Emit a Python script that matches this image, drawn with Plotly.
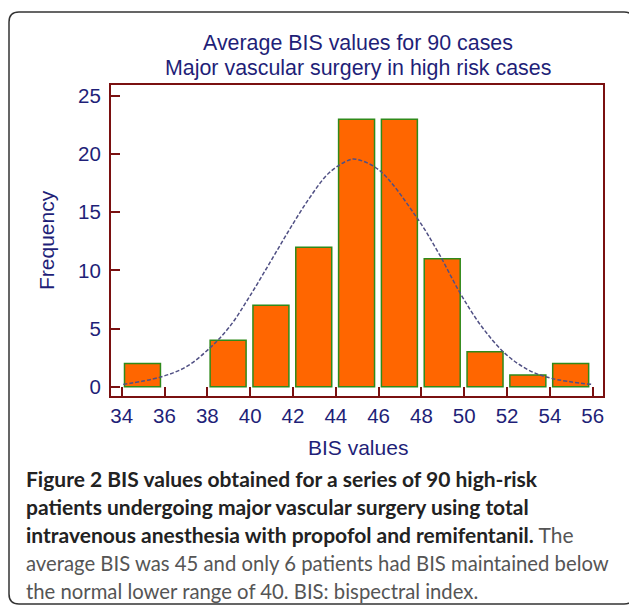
import plotly.graph_objects as go

# Histogram bins (left edges) and frequencies
bin_left = [34, 36, 38, 40, 42, 44, 46, 48, 50, 52, 54]
freq = [2, 0, 4, 7, 12, 23, 23, 11, 3, 1, 2]

# Fitted normal curve
curve_x = [34.07, 35.78, 37.02, 38.1, 39.04, 39.97, 40.9, 41.83, 42.76, 43.69, 44.62, 44.93,
           46.01, 47.8, 48.8, 49.81, 50.82, 51.9, 52.99, 54.07, 55.93]
curve_y = [0.2, 0.81, 1.72, 3.3, 5.16, 7.75, 10.6, 13.5, 16.2, 18.4, 19.5, 19.57,
           18.65, 14.5, 11.5, 8.04, 5.16, 2.87, 1.44, 0.72, 0.2]

x_ticks = [34, 36, 38, 40, 42, 44, 46, 48, 50, 52, 54, 56]
y_ticks = [0, 5, 10, 15, 20, 25]

title_lines = ["Average BIS values for 90 cases", "Major vascular surgery in high risk cases"]
x_title = "BIS values"
y_title = "Frequency"
caption_lines = [
    "<b>Figure 2 BIS values obtained for a series of 90 high-risk</b>",
    "<b>patients undergoing major vascular surgery using total</b>",
    "<b>intravenous anesthesia with propofol and remifentanil.</b> <span style='color:#555555'>The</span>",
    "<span style='color:#555555'>average BIS was 45 and only 6 patients had BIS maintained below</span>",
    "<span style='color:#555555'>the normal lower range of 40. BIS: bispectral index.</span>",
]
caption_sizes = [21, 21, 21, 20.3, 20.3]

W, H = 629, 607
L, R, T, B = 111, 603, 85, 396  # plot area in pixels

def px(xp):
    return (xp - L) / (R - L)

def py(yp):
    return (B - yp) / (B - T)

NAVY = "#1f1f78"
AXIS = "#7a1010"
FONT = "Liberation Sans, Arial"

fig = go.Figure()
fig.add_trace(go.Bar(
    x=bin_left, y=freq, width=1.68, offset=0.13,
    marker=dict(color="#ff6600",
                line=dict(color="#2f8a1a", width=[0 if f == 0 else 1.5 for f in freq])),
    hoverinfo="skip",
))
fig.add_trace(go.Scatter(
    x=curve_x, y=curve_y, mode="lines",
    line=dict(color="#505084", width=1.5, dash="4px,2px", shape="spline"),
    hoverinfo="skip",
))

axis_common = dict(
    showline=True, linecolor=AXIS, linewidth=2, mirror=True,
    ticks="inside", tickcolor=AXIS, tickwidth=2, ticklen=9,
    showgrid=False, zeroline=False,
    tickfont=dict(family=FONT, size=20.5, color=NAVY),
)
fig.update_xaxes(range=[33.5, 56.48], tickvals=x_ticks, **axis_common)
fig.update_yaxes(range=[-0.8, 25.95], tickvals=y_ticks, ticklabelstandoff=4, **axis_common)

annotations = []
for i, t in enumerate(title_lines):
    annotations.append(dict(text=t, x=px(358), y=py(43 + i * 25), xref="paper", yref="paper",
                            showarrow=False, xanchor="center", yanchor="middle",
                            font=dict(family=FONT, size=21.4, color=NAVY)))
annotations.append(dict(text=x_title, x=px(358), y=py(447), xref="paper", yref="paper",
                        showarrow=False, xanchor="center", yanchor="middle",
                        font=dict(family=FONT, size=21, color=NAVY)))
annotations.append(dict(text=y_title, x=px(46), y=py(240), xref="paper", yref="paper",
                        showarrow=False, xanchor="center", yanchor="middle", textangle=-90,
                        font=dict(family=FONT, size=21, color=NAVY)))
for i, t in enumerate(caption_lines):
    annotations.append(dict(text=t, x=px(24), y=py(478 + i * 28.3), xref="paper", yref="paper",
                            showarrow=False, xanchor="left", yanchor="middle", align="left",
                            font=dict(family="Lato, Noto Sans", size=caption_sizes[i], color="#222222")))

# rounded card border (pixel coords -> paper)
x0, y0, x1, y1, r = 9, 12, 634, 604, 10
path = (f"M {px(x0)},{py(y0 + r)} Q {px(x0)},{py(y0)} {px(x0 + r)},{py(y0)} "
        f"L {px(x1 - r)},{py(y0)} Q {px(x1)},{py(y0)} {px(x1)},{py(y0 + r)} "
        f"L {px(x1)},{py(y1 - r)} Q {px(x1)},{py(y1)} {px(x1 - r)},{py(y1)} "
        f"L {px(x0 + r)},{py(y1)} Q {px(x0)},{py(y1)} {px(x0)},{py(y1 - r)} Z")

fig.update_layout(
    width=W, height=H,
    margin=dict(l=L, r=W - R, t=T, b=H - B),
    paper_bgcolor="white", plot_bgcolor="white",
    showlegend=False,
    annotations=annotations,
    shapes=[dict(type="path", path=path, xref="paper", yref="paper",
                 line=dict(color="#333333", width=1.5), layer="below")],
)

fig.write_html("out.html", config={"displayModeBar": False},
               post_script="document.body.style.margin='0';document.body.style.overflow='hidden';")
